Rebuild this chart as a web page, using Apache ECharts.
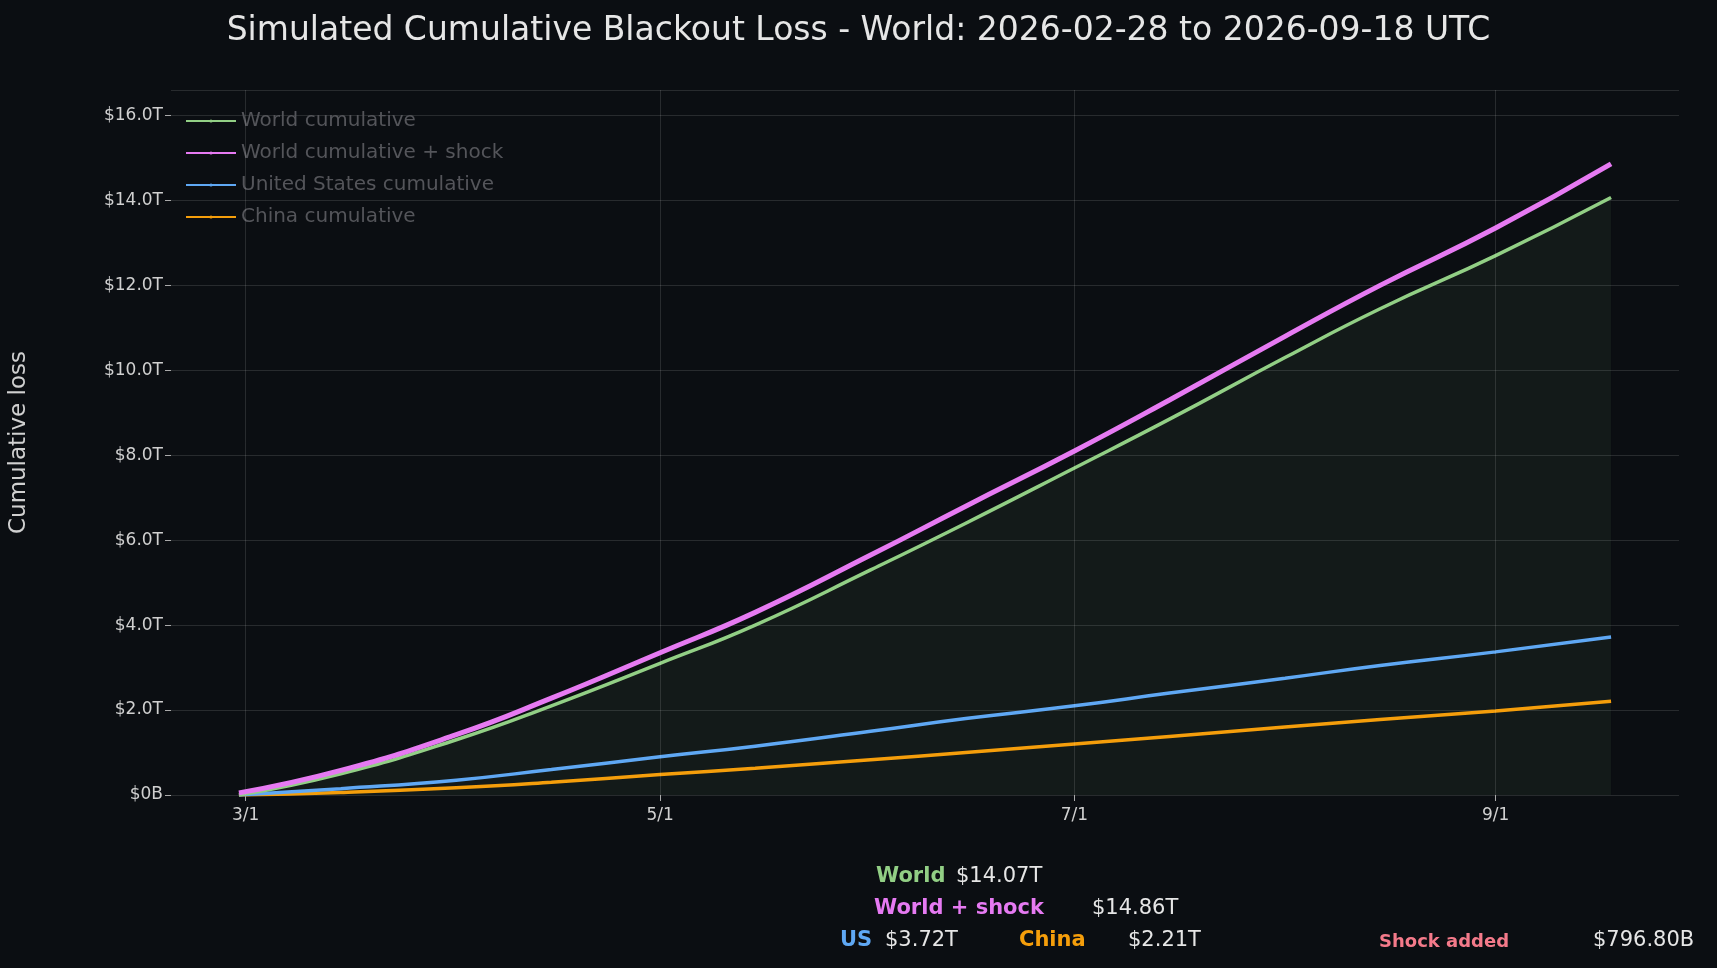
<!DOCTYPE html>
<html><head><meta charset="utf-8">
<script src="https://cdn.jsdelivr.net/npm/echarts@6/dist/echarts.min.js"></script>
<style>html,body{margin:0;background:#0b0e12;}#c{width:1717px;height:968px;}</style>
</head><body><div id="c"></div>
<script>
const dates = ['2026-02-28','2026-03-15','2026-04-01','2026-04-15','2026-05-01','2026-05-15','2026-06-01','2026-06-15','2026-07-01','2026-07-15','2026-08-01','2026-08-15','2026-09-01','2026-09-18'];
const world = [0,0.5,1.3,2.1,3.1,4.0,5.3,6.4,7.7,8.85,10.3,11.45,12.7,14.07];
const shock = [0.05,0.58,1.42,2.28,3.35,4.3,5.65,6.8,8.1,9.3,10.8,12.0,13.35,14.86];
const us = [0,0.15,0.35,0.6,0.9,1.15,1.5,1.8,2.1,2.4,2.75,3.05,3.37,3.72];
const china = [0,0.06,0.17,0.3,0.48,0.63,0.83,1.0,1.2,1.38,1.6,1.78,1.98,2.21];
const xTicks = ['2026-03-01','2026-05-01','2026-07-01','2026-09-01'];
const xTickLabels = ['3/1','5/1','7/1','9/1'];

const ts = d => Date.parse(d + 'T00:00:00Z');
const pair = arr => dates.map((d,i)=>[ts(d),arr[i]]);
const band = dates.map((d,i)=>[ts(d),+(shock[i]-world[i]).toFixed(3)]);
const tickTs = xTicks.map(ts);
const C = {world:'#92cf85', shock:'#e67af2', us:'#5fa8f4', china:'#f59e0b'};
const chart = echarts.init(document.getElementById('c'));
const font = 'DejaVu Sans';
chart.setOption({
  backgroundColor:'#0b0e12',
  textStyle:{fontFamily:font},
  animation:false,
  title:{text:'Simulated Cumulative Blackout Loss - World: 2026-02-28 to 2026-09-18 UTC',left:'center',top:10,
    textStyle:{color:'#e6e6e6',fontSize:33,fontWeight:'normal',fontFamily:font}},
  grid:{left:170,right:38,top:90,bottom:173},
  legend:{left:180,top:106,orient:'vertical',itemGap:12,itemWidth:50,itemHeight:4,
    data:['World cumulative','World cumulative + shock','United States cumulative','China cumulative'],
    textStyle:{fontSize:20,fontFamily:font}},
  xAxis:{type:'value',min:ts('2026-02-18'),max:ts('2026-09-28'),
    axisLine:{show:false},splitLine:{show:false},
    axisTick:{show:true,customValues:tickTs,length:6,lineStyle:{color:'#aaa'}},
    axisLabel:{customValues:tickTs,color:'#d0d0d0',fontSize:17,margin:12,
      formatter:v=>{const i=tickTs.indexOf(v);return i>=0?xTickLabels[i]:'';}}},
  yAxis:{type:'value',min:0,max:16.6,interval:2,name:'Cumulative loss',nameLocation:'middle',nameGap:140,
    nameTextStyle:{color:'#d0d0d0',fontSize:23},
    axisLine:{show:false},axisTick:{show:true,length:6,lineStyle:{color:'#aaa'}},
    splitLine:{lineStyle:{color:'rgba(255,255,255,0.12)'}},
    axisLabel:{color:'#d0d0d0',fontSize:17,showMaxLabel:false,formatter:v=>v===0?'$0B':'$'+v.toFixed(1)+'T'}},
  series:[
    {name:'base',type:'line',stack:'s',data:pair(world),smooth:true,symbol:'none',lineStyle:{width:0},
      areaStyle:{color:'rgba(150,200,140,0.09)'},silent:true,z:1,
      markLine:{silent:true,symbol:'none',label:{show:false},lineStyle:{color:'rgba(255,255,255,0.12)',type:'solid',width:1},
        data:tickTs.map(t=>({xAxis:t}))}},
    {name:'band',type:'line',stack:'s',data:band,smooth:true,symbol:'none',lineStyle:{width:0},
      areaStyle:{color:'rgba(230,120,240,0.15)'},silent:true,z:1},
    {name:'China cumulative',type:'line',data:pair(china),smooth:true,symbol:'none',color:C.china,lineStyle:{width:3.5},z:3},
    {name:'United States cumulative',type:'line',data:pair(us),smooth:true,symbol:'none',color:C.us,lineStyle:{width:3.5},z:3},
    {name:'World cumulative',type:'line',data:pair(world),smooth:true,symbol:'none',color:C.world,lineStyle:{width:3.5},z:4},
    {name:'World cumulative + shock',type:'line',data:pair(shock),smooth:true,symbol:'none',color:C.shock,lineStyle:{width:5},z:5}
  ],
  graphic:[
    {type:'text',left:876,top:866,style:{text:'World',fill:C.world,font:'bold 21px DejaVu Sans'}},
    {type:'text',left:956,top:866,style:{text:'$14.07T',fill:'#e6e6e6',font:'21px DejaVu Sans'}},
    {type:'text',left:874,top:898,style:{text:'World + shock',fill:C.shock,font:'bold 21px DejaVu Sans'}},
    {type:'text',left:1092,top:898,style:{text:'$14.86T',fill:'#e6e6e6',font:'21px DejaVu Sans'}},
    {type:'text',left:840,top:930,style:{text:'US',fill:C.us,font:'bold 21px DejaVu Sans'}},
    {type:'text',left:885,top:930,style:{text:'$3.72T',fill:'#e6e6e6',font:'21px DejaVu Sans'}},
    {type:'text',left:1019,top:930,style:{text:'China',fill:C.china,font:'bold 21px DejaVu Sans'}},
    {type:'text',left:1128,top:930,style:{text:'$2.21T',fill:'#e6e6e6',font:'21px DejaVu Sans'}},
    {type:'text',left:1379,top:933,style:{text:'Shock added',fill:'#f47a8a',font:'bold 18px DejaVu Sans'}},
    {type:'text',left:1593,top:930,style:{text:'$796.80B',fill:'#e6e6e6',font:'21px DejaVu Sans'}}
  ]
});
</script></body></html>
